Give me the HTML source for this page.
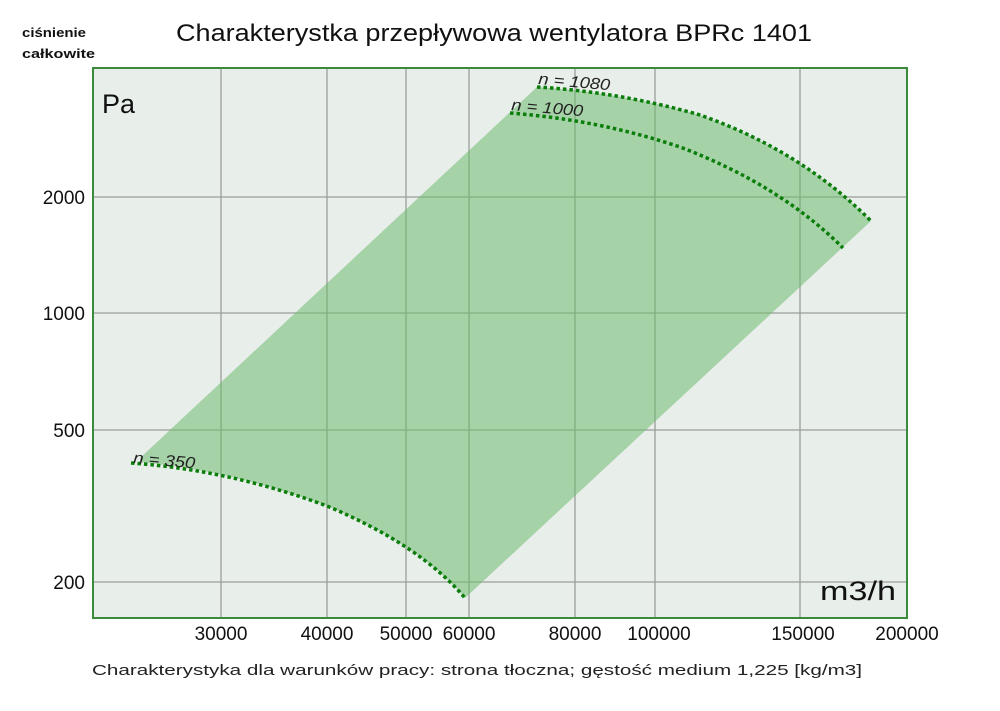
<!DOCTYPE html><html><head><meta charset="utf-8"><style>body{margin:0;background:#fff}</style></head><body>
<svg width="1000" height="706" xmlns="http://www.w3.org/2000/svg" font-family="'Liberation Sans','DejaVu Sans',sans-serif">
<rect x="93" y="68" width="814" height="550" fill="#e8eeea"/>
<g stroke="#9a9e9a" stroke-width="1.3">
<line x1="221" y1="68" x2="221" y2="618"/><line x1="327" y1="68" x2="327" y2="618"/>
<line x1="406" y1="68" x2="406" y2="618"/><line x1="469" y1="68" x2="469" y2="618"/>
<line x1="575" y1="68" x2="575" y2="618"/><line x1="655" y1="68" x2="655" y2="618"/>
<line x1="800" y1="68" x2="800" y2="618"/>
<line x1="93" y1="197" x2="907" y2="197"/><line x1="93" y1="313" x2="907" y2="313"/>
<line x1="93" y1="430" x2="907" y2="430"/><line x1="93" y1="582" x2="907" y2="582"/>
</g>
<path d="M140,458 L537,87 Q620,92 700,115 Q800,150 871,221 L465,598 Q420,545 327,506 Q230,470 140,462 Z" fill="#70bb70" fill-opacity="0.55"/>
<g fill="none" stroke="#0a7d0a" stroke-width="3.5" stroke-dasharray="3.5,3">
<path d="M131,463 Q230,470 327,506 Q420,545 465,598"/>
<path d="M537,87 Q620,92 700,115 Q800,150 871,221"/>
<path d="M510,113 Q600,120 680,147 Q780,185 843,248"/>
</g>
<rect x="93" y="68" width="814" height="550" fill="none" stroke="#3a8a3a" stroke-width="2"/>
<g font-style="italic" font-size="16" fill="#222">
<text x="133" y="463" transform="rotate(5 133 463)" textLength="62" lengthAdjust="spacingAndGlyphs">n = 350</text>
<text x="538" y="84" transform="rotate(5 538 84)" textLength="72" lengthAdjust="spacingAndGlyphs">n = 1080</text>
<text x="511" y="110" transform="rotate(5 511 110)" textLength="72" lengthAdjust="spacingAndGlyphs">n = 1000</text>
</g>
<text x="176" y="41" font-size="24" fill="#111" textLength="636" lengthAdjust="spacingAndGlyphs">Charakterystka przepływowa wentylatora BPRc 1401</text>
<text x="22" y="37" font-size="13" font-weight="bold" fill="#111" textLength="64" lengthAdjust="spacingAndGlyphs">ciśnienie</text>
<text x="22" y="58" font-size="13" font-weight="bold" fill="#111" textLength="73" lengthAdjust="spacingAndGlyphs">całkowite</text>
<text x="102" y="113" font-size="27" fill="#111">Pa</text>
<text x="820" y="600" font-size="27" fill="#111" textLength="76" lengthAdjust="spacingAndGlyphs">m3/h</text>
<g font-size="19" fill="#111" text-anchor="end">
<text x="85" y="204">2000</text><text x="85" y="320">1000</text><text x="85" y="437">500</text><text x="85" y="589">200</text>
</g>
<g font-size="19" fill="#111" text-anchor="middle">
<text x="221" y="640">30000</text><text x="327" y="640">40000</text><text x="406" y="640">50000</text>
<text x="469" y="640">60000</text><text x="575" y="640">80000</text><text x="659" y="640">100000</text>
<text x="803" y="640">150000</text><text x="907" y="640">200000</text>
</g>
<text x="92" y="675" font-size="15" fill="#222" textLength="770" lengthAdjust="spacingAndGlyphs">Charakterystyka dla warunków pracy: strona tłoczna; gęstość medium 1,225 [kg/m3]</text>
</svg></body></html>
